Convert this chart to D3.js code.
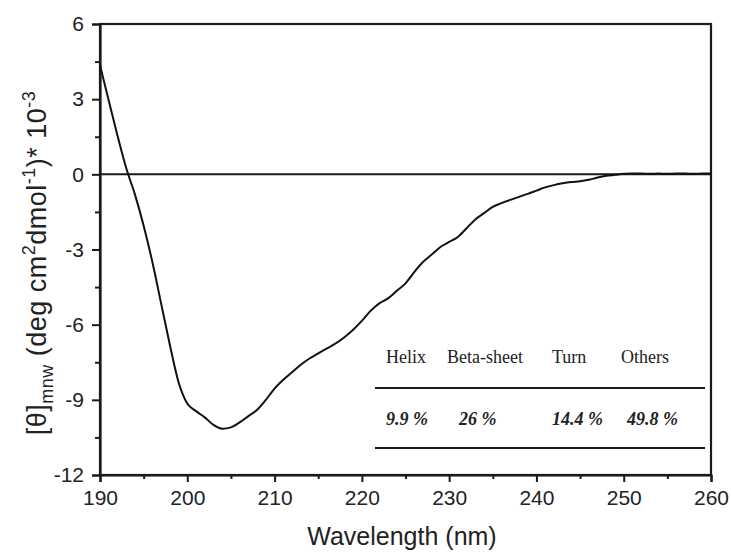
<!DOCTYPE html>
<html>
<head>
<meta charset="utf-8">
<script src="https://cdn.jsdelivr.net/npm/d3@7"></script>
<style>
  html, body { margin: 0; padding: 0; background: #fff; }
  svg { display: block; }
</style>
</head>
<body>
<svg id="chart" width="731" height="552"></svg>
<script>
// CD spectrum: mean residue ellipticity vs wavelength
const wavelengths = d3.range(190, 261, 1);
const ellipticity = [
  4.35, 2.95, 1.55, 0.25, -0.8, -2.05, -3.5, -5.15, -6.8, -8.3,
  -9.15, -9.45, -9.7, -10.0, -10.15, -10.1, -9.9, -9.65, -9.4, -9.0,
  -8.55, -8.2, -7.9, -7.6, -7.35, -7.15, -6.95, -6.75, -6.5, -6.2,
  -5.85, -5.45, -5.15, -4.95, -4.65, -4.35, -3.9, -3.5, -3.2, -2.9,
  -2.7, -2.5, -2.15, -1.8, -1.55, -1.3, -1.15, -1.02, -0.9, -0.78,
  -0.65, -0.52, -0.43, -0.36, -0.31, -0.28, -0.22, -0.13, -0.06, -0.02,
  0.02, 0.03, 0.03, 0.02, 0.03, 0.02, 0.03, 0.03, 0.02, 0.03, 0.03
];

const xTicks = [190, 200, 210, 220, 230, 240, 250, 260];
const xMinorTicks = [195, 205, 215, 225, 235, 245, 255];
const yTicks = [-12, -9, -6, -3, 0, 3, 6];
const yMinorTicks = [-10.5, -7.5, -4.5, -1.5, 1.5, 4.5];

// Secondary structure table
const structureNames = ["Helix", "Beta-sheet", "Turn", "Others"];
const structureValues = ["9.9 %", "26 %", "14.4 %", "49.8 %"];
const structureX = [386, 447, 552, 621];
const valueX = [386, 459, 552, 627];

const svg = d3.select("#chart");
const plotLeft = 100, plotRight = 711, plotTop = 24, plotBottom = 475;

const x = d3.scaleLinear().domain([190, 260]).range([plotLeft, plotRight]);
const y = d3.scaleLinear().domain([-12, 6]).range([plotBottom, plotTop]);

const sans = "'Liberation Sans', Arial, sans-serif";
const serif = "'Liberation Serif', 'DejaVu Serif', serif";
const ink = "#1a1a1a";
const plainNumber = d => String(d);   // hyphen-minus, as printed on the axes

// frame
svg.append("rect")
  .attr("x", plotLeft).attr("y", plotTop)
  .attr("width", plotRight - plotLeft).attr("height", plotBottom - plotTop)
  .attr("fill", "none").attr("stroke", ink).attr("stroke-width", 2.2);

// x axis
const xAxis = svg.append("g").attr("transform", `translate(0,${plotBottom})`)
  .call(d3.axisBottom(x).tickValues(xTicks).tickSize(7).tickPadding(8).tickFormat(plainNumber));
svg.append("g").attr("transform", `translate(0,${plotBottom})`)
  .call(d3.axisBottom(x).tickValues(xMinorTicks).tickSize(4).tickFormat(""))
  .call(g => g.select(".domain").remove());

// y axis
const yAxis = svg.append("g").attr("transform", `translate(${plotLeft},0)`)
  .call(d3.axisLeft(y).tickValues(yTicks).tickSize(8).tickPadding(8).tickFormat(plainNumber));
svg.append("g").attr("transform", `translate(${plotLeft},0)`)
  .call(d3.axisLeft(y).tickValues(yMinorTicks).tickSize(5).tickFormat(""))
  .call(g => g.select(".domain").remove());

svg.selectAll(".domain").attr("stroke", ink).attr("stroke-width", 2.2);
svg.selectAll(".tick line").attr("stroke", ink).attr("stroke-width", 2);
svg.selectAll(".tick text")
  .attr("font-family", sans).attr("font-size", 21).attr("fill", "#222");
xAxis.selectAll(".tick text").attr("dy", "0.71em");

// zero line
svg.append("line")
  .attr("x1", plotLeft).attr("x2", plotRight)
  .attr("y1", y(0)).attr("y2", y(0))
  .attr("stroke", ink).attr("stroke-width", 2);

// spectrum
const line = d3.line()
  .x((d, i) => x(wavelengths[i]))
  .y(d => y(d))
  .curve(d3.curveMonotoneX);
svg.append("path")
  .datum(ellipticity)
  .attr("d", line)
  .attr("fill", "none")
  .attr("stroke", "#111")
  .attr("stroke-width", 2);

// axis titles
svg.append("text")
  .attr("x", 402).attr("y", 545)
  .attr("text-anchor", "middle")
  .attr("font-family", sans).attr("font-size", 25).attr("fill", "#222")
  .text("Wavelength (nm)");

const yTitle = svg.append("text")
  .attr("transform", "translate(46,263) rotate(-90)")
  .attr("text-anchor", "middle")
  .attr("font-family", sans).attr("font-size", 27).attr("fill", "#222")
  .attr("letter-spacing", 0.5);
yTitle.append("tspan").text("[θ]");
yTitle.append("tspan").attr("font-size", 18).attr("dy", 7).text("mnw");
yTitle.append("tspan").attr("dy", -7).text(" (deg cm");
yTitle.append("tspan").attr("font-size", 18).attr("dy", -11).text("2");
yTitle.append("tspan").attr("dy", 11).text("dmol");
yTitle.append("tspan").attr("font-size", 18).attr("dy", -11).text("-1");
yTitle.append("tspan").attr("dy", 11).text(")* 10");
yTitle.append("tspan").attr("font-size", 18).attr("dy", -11).text("-3");

// secondary structure table
const table = svg.append("g");
table.selectAll("text.head")
  .data(structureNames)
  .join("text")
  .attr("class", "head")
  .attr("x", (d, i) => structureX[i]).attr("y", 363)
  .attr("font-family", serif).attr("font-size", 18).attr("fill", "#222")
  .text(d => d);
table.selectAll("text.val")
  .data(structureValues)
  .join("text")
  .attr("class", "val")
  .attr("x", (d, i) => valueX[i]).attr("y", 425)
  .attr("font-family", serif).attr("font-size", 18)
  .attr("font-style", "italic").attr("font-weight", "bold").attr("fill", "#222")
  .text(d => d);
[388, 448].forEach(ly => {
  table.append("line")
    .attr("x1", 375).attr("x2", 705)
    .attr("y1", ly).attr("y2", ly)
    .attr("stroke", ink).attr("stroke-width", 2);
});
</script>
</body>
</html>
